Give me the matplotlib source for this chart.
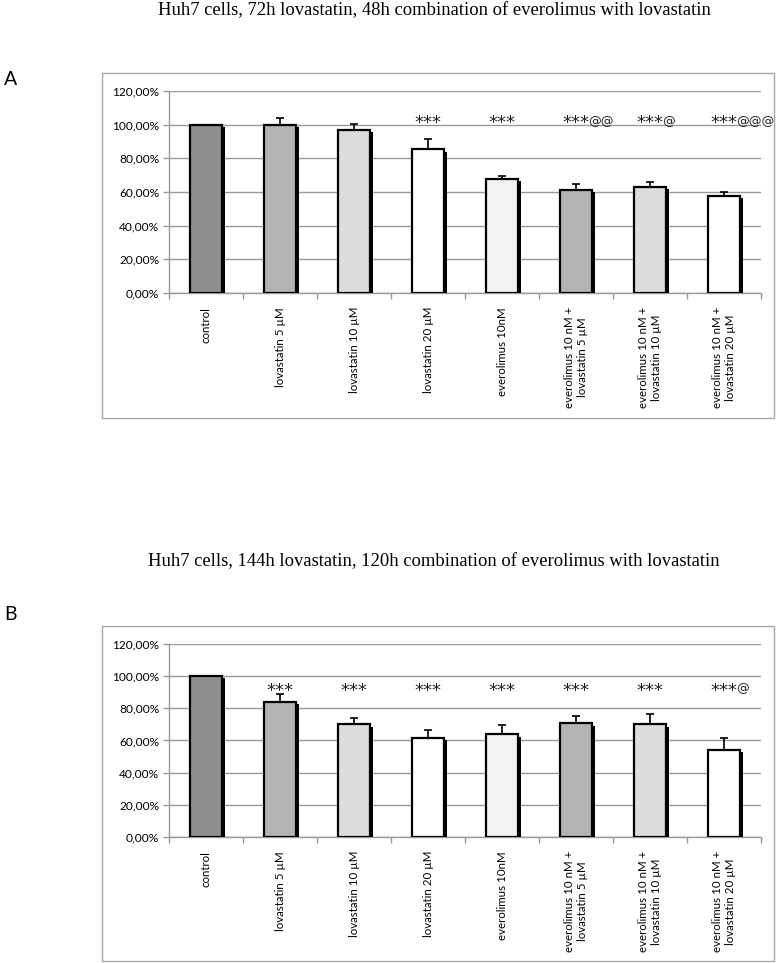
from matplotlib import pyplot as plt
from matplotlib import patheffects
from matplotlib.patches import Rectangle

CATEGORIES = ['control', 'lovastatin 5 µM', 'lovastatin 10 µM', 'lovastatin 20 µM',
              'everolimus 10nM', 'everolimus 10 nM +\nlovastatin 5 µM',
              'everolimus 10 nM +\nlovastatin 10 µM', 'everolimus 10 nM +\nlovastatin 20 µM']
BAR_COLORS = ['#8e8e8e', '#b3b3b3', '#dcdcdc', '#ffffff',
              '#f2f2f2', '#b3b3b3', '#dcdcdc', '#ffffff']

# panel A: 72h lovastatin, 48h combination
VALUES_A = [100.0, 100.0, 96.9, 85.3, 67.9, 61.4, 63.2, 57.8]
ERRORS_A = [0.0, 4.0, 3.3, 6.1, 1.8, 3.6, 2.5, 2.4]
STARS_A = ['', '', '', '***', '***', '***', '***', '***']
AT_A = ['', '', '', '', '', '@@', '@', '@@@']

# panel B: 144h lovastatin, 120h combination
VALUES_B = [100.0, 83.9, 70.0, 61.7, 63.8, 70.6, 70.0, 54.4]
ERRORS_B = [0.0, 4.7, 3.7, 4.6, 5.8, 4.8, 6.2, 6.9]
STARS_B = ['', '***', '***', '***', '***', '***', '***', '***']
AT_B = ['', '', '', '', '', '', '', '@']

Y_TICKS = [0, 20, 40, 60, 80, 100, 120]
Y_TICK_LABELS = ['0,00%', '20,00%', '40,00%', '60,00%', '80,00%', '100,00%', '120,00%']

TITLE_A = 'Huh7 cells, 72h lovastatin, 48h combination of everolimus with lovastatin'
TITLE_B = 'Huh7 cells, 144h lovastatin, 120h combination of everolimus with lovastatin'

SANS = ['Lato', 'DejaVu Sans']
GRID = '#9a9a9a'


def draw_panel(fig, rect, values, errors, stars, ats, mark_y):
    """Draw one Excel-style bar chart with shadowed bars, upper error bars and marks."""
    ax = fig.add_axes(rect)
    x = range(len(values))

    bars = ax.bar(x, values, width=0.42, color=BAR_COLORS, edgecolor='black',
                  linewidth=1.6, zorder=3)
    for bar in bars:
        bar.set_path_effects([
            patheffects.SimplePatchShadow(offset=(2.6, -1.6), shadow_rgbFace='black', alpha=1.0),
            patheffects.Normal(),
        ])

    ax.errorbar(x, values, yerr=[[0] * len(errors), errors], fmt='none',
                ecolor='black', elinewidth=1.2, capsize=3.2, capthick=1.2, zorder=4)

    # significance marks: stars centred on the bar, @ signs appended to the right
    for i, (star, at) in enumerate(zip(stars, ats)):
        if star:
            ax.text(i, mark_y, star, ha='center', va='baseline', fontsize=13,
                    family='DejaVu Sans', color='#222222', zorder=5)
        if at:
            ax.annotate(at, xy=(i, mark_y), xytext=(8.5, 2.5), textcoords='offset points',
                        ha='left', va='baseline', fontsize=9.2, family='DejaVu Sans',
                        color='#222222', zorder=5, annotation_clip=False)

    ax.set_xlim(-0.5, len(values) - 0.5)
    ax.set_ylim(0, 120)
    ax.set_yticks(Y_TICKS)
    ax.set_yticklabels(Y_TICK_LABELS, family=SANS, fontsize=8.6)
    ax.yaxis.grid(True, color=GRID, linewidth=1.0, zorder=0)
    ax.set_axisbelow(True)

    ax.set_xticks(list(x))
    ax.set_xticklabels(CATEGORIES, rotation=90, family=SANS, fontsize=8.3,
                       va='top', ha='center', multialignment='center')
    ax.set_xticks([i + 0.5 for i in range(-1, len(values))], minor=True)
    ax.tick_params(axis='x', which='major', length=0, pad=10)
    ax.tick_params(axis='x', which='minor', length=4, color=GRID, width=1.0)
    ax.tick_params(axis='y', length=4, color=GRID, width=1.0, pad=3)

    for side in ('top', 'right'):
        ax.spines[side].set_visible(False)
    for side in ('left', 'bottom'):
        ax.spines[side].set_color(GRID)
        ax.spines[side].set_linewidth(1.0)
    return ax


def main():
    fig = plt.figure(figsize=(7.76, 9.63), dpi=100)

    # grey frames around each chart
    for frame in ([0.1314, 0.5659, 0.866, 0.3583], [0.1314, 0.0021, 0.866, 0.3479]):
        fig.patches.append(Rectangle((frame[0], frame[1]), frame[2], frame[3],
                                     transform=fig.transFigure, fill=False,
                                     edgecolor='#a6a6a6', linewidth=1.0))

    draw_panel(fig, [0.2178, 0.6957, 0.7629, 0.2098], VALUES_A, ERRORS_A, STARS_A, AT_A, 97.8)
    draw_panel(fig, [0.2178, 0.1308, 0.7629, 0.2005], VALUES_B, ERRORS_B, STARS_B, AT_B, 87.8)

    fig.text(0.5595, 0.9886, TITLE_A, ha='center', va='center', fontsize=13.4,
             family='Liberation Serif')
    fig.text(0.5595, 0.4164, TITLE_B, ha='center', va='center', fontsize=13.4,
             family='Liberation Serif')
    fig.text(0.005, 0.917, 'A', ha='left', va='center', fontsize=14, family=SANS)
    fig.text(0.005, 0.362, 'B', ha='left', va='center', fontsize=14, family=SANS)

    fig.savefig('out.png', dpi=100)
    print('Saved image: out.png')


if __name__ == '__main__':
    main()
